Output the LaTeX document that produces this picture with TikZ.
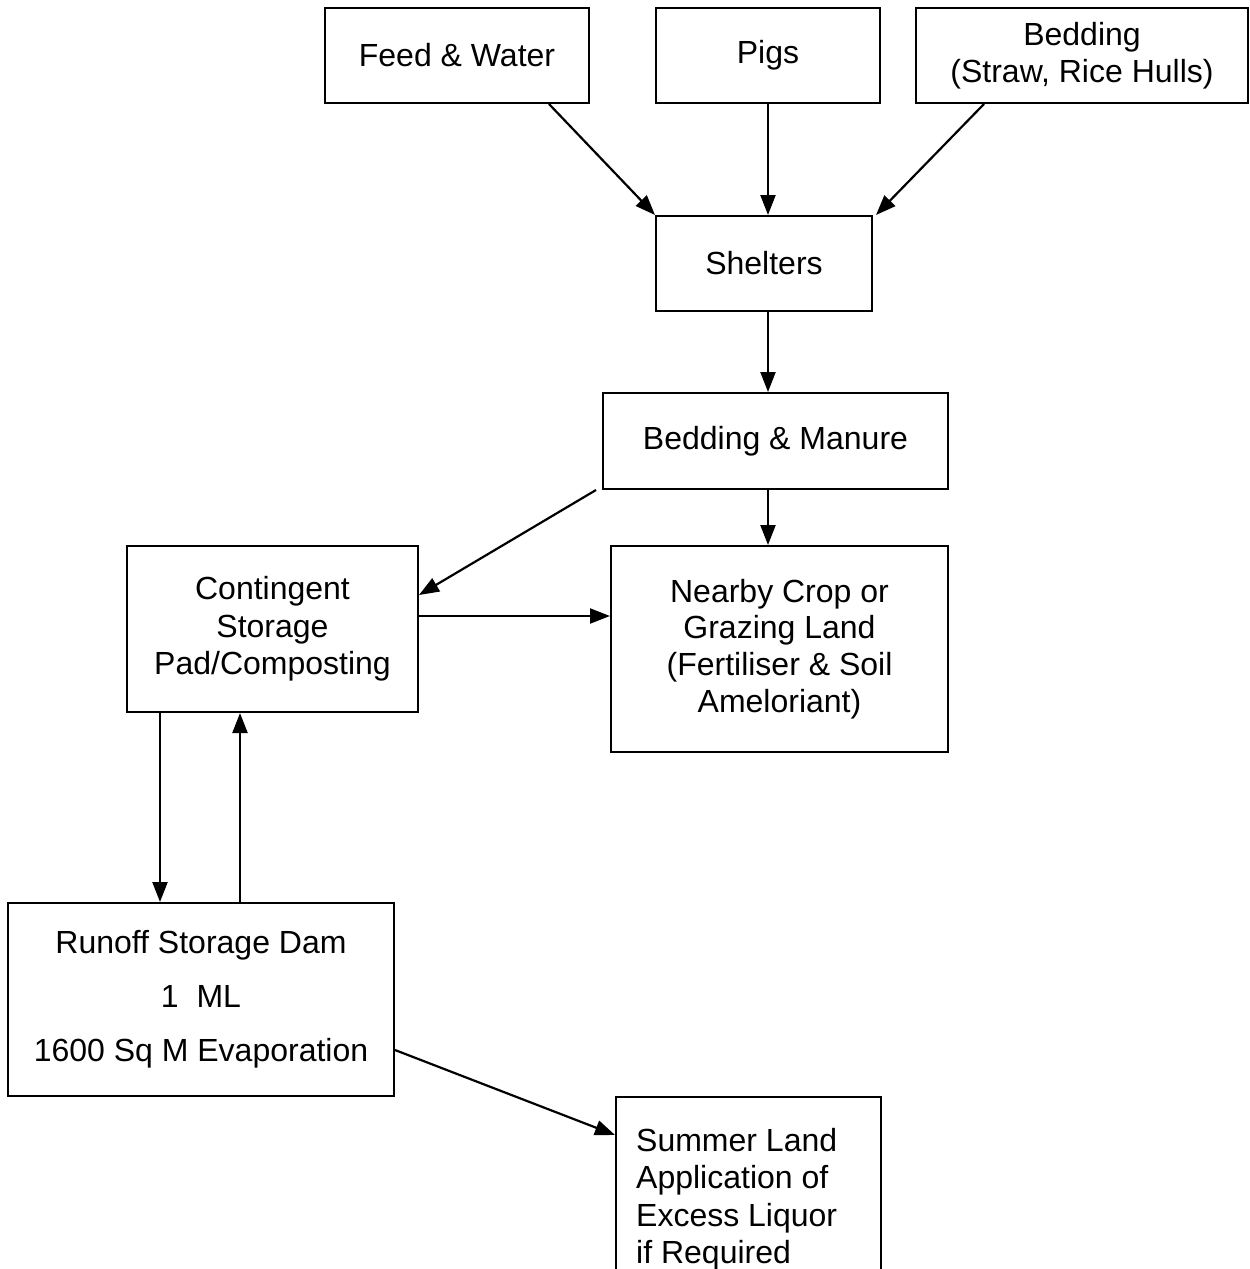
\documentclass[tikz,border=0pt]{standalone}
\usepackage{fontspec}
\setmainfont{Liberation Sans}
\usetikzlibrary{arrows.meta,calc}
\begin{document}
\begin{tikzpicture}[x=1pt,y=-1pt,
  box/.style={draw,line width=2pt,rectangle,inner sep=0pt,align=center,font=\fontsize{32}{37.5}\selectfont},
  arr/.style={line width=2.2pt,-{Triangle[length=20pt,width=15pt]}}]
\clip (0,0) rectangle (1250,1269);
\fill[white] (0,0) rectangle (1250,1269);
\node[box,minimum width=264pt,minimum height=95pt] (feed) at (457,55.5) {Feed \& Water};
\node[box,minimum width=224pt,minimum height=95pt] (pigs) at (768,55.5) {Pigs};
\node[box,minimum width=332pt,minimum height=95pt] (bed) at (1082,55.5) {Bedding\\(Straw, Rice Hulls)};
\node[box,minimum width=216pt,minimum height=95pt] (shel) at (764,263.5) {Shelters};
\node[box,minimum width=345pt,minimum height=96pt] (bm) at (775.5,441) {Bedding \& Manure};
\node[box,minimum width=291pt,minimum height=166pt] (cont) at (272.5,629) {Contingent\\Storage\\Pad/Composting};
\node[box,minimum width=337pt,minimum height=206pt,font=\fontsize{32}{36.7}\selectfont] (near) at (779.5,649) {Nearby Crop or\\Grazing Land\\(Fertiliser \& Soil\\Ameloriant)};
\node[box,minimum width=386pt,minimum height=193pt,font=\fontsize{32}{54}\selectfont] (run) at (201,999.5) {Runoff Storage Dam\\1~~ML\\1600 Sq M Evaporation};
\node[box,minimum width=265pt,minimum height=230pt,anchor=north west] (sum) at (615,1096) {};
\node[anchor=north west,align=left,inner sep=0pt,font=\fontsize{32}{37.5}\selectfont] (sumtxt) at (636,1128) {Summer Land\\Application of\\Excess Liquor\\if Required};
\draw[arr] ([xshift=-41pt]feed.south east) -- (shel.north west);
\draw[arr] (pigs.south) -- (pigs.south |- shel.north);
\draw[arr] ([xshift=-98pt]bed.south) -- ([xshift=3pt]shel.north east);
\draw[arr] (pigs.south |- shel.south) -- (pigs.south |- bm.north);
\draw[arr] (pigs.south |- bm.south) -- (pigs.south |- near.north);
\draw[arr] ([xshift=-6pt]bm.south west) -- ([yshift=-50pt]cont.north east);
\draw[arr] ([yshift=13pt]cont.east) -- ([yshift=13pt]cont.east -| near.west);
\draw[arr] ([xshift=34pt]cont.south west) -- ([xshift=34pt]cont.south west |- run.north);
\draw[arr] ([xshift=39pt]run.north) -- ([xshift=39pt]run.north |- cont.south);
\draw[arr] ([yshift=-50.5pt]run.east) -- ([yshift=-39pt]sum.north west);
\end{tikzpicture}
\end{document}
